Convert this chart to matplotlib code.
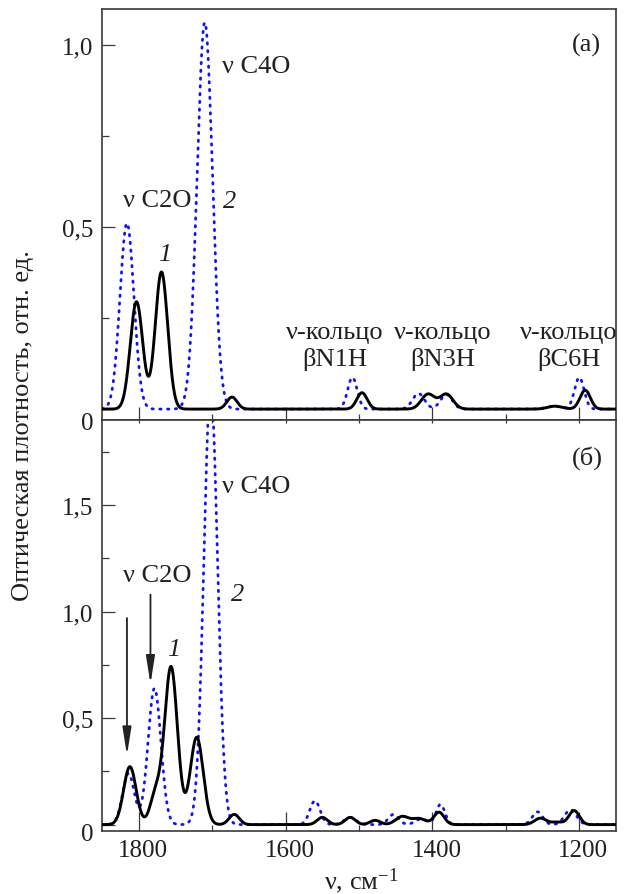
import numpy as np
import matplotlib
matplotlib.use("Agg")
import matplotlib.pyplot as plt
from matplotlib.ticker import MultipleLocator, FixedLocator, FixedFormatter
from matplotlib.transforms import ScaledTranslation

plt.rcParams['font.family'] = ['Liberation Serif', 'DejaVu Serif']
plt.rcParams['mathtext.fontset'] = 'custom'
plt.rcParams['mathtext.rm'] = 'Liberation Serif'
plt.rcParams['mathtext.it'] = 'Liberation Serif:italic'

# ---------------- data (bands) ----------------
# panel (a): curve 1 (black, solid)
a1_pos = [1803, 1769, 1673, 1496, 1406, 1381, 1233, 1192]
a1_amp = [0.295, 0.377, 0.033, 0.045, 0.041, 0.041, 0.008, 0.052]
a1_wid = [8.5, 8.5, 7, 7, 9, 9, 10, 7]
# panel (a): curve 2 (blue, dotted)
a2_pos = [1816, 1710, 1509, 1419, 1381, 1235, 1200]
a2_amp = [0.511, 1.063, 0.087, 0.043, 0.040, 0.008, 0.087]
a2_wid = [9.5, 10.5, 6.5, 8, 8, 10, 6.5]
# panel (б): curve 1 (black, solid)
b1_pos = [1812, 1777, 1756, 1721, 1670, 1550, 1512, 1478, 1441, 1418, 1391, 1253, 1230, 1207]
b1_amp = [0.272, 0.14, 0.74, 0.41, 0.048, 0.034, 0.034, 0.02, 0.038, 0.028, 0.058, 0.03, 0.012, 0.066]
b1_wid = [8.5, 7.5, 8.8, 8.8, 7, 7, 7, 7, 9, 9, 7, 8, 8, 7]
# panel (б): curve 2 (blue, dotted)
b2_pos = [1814, 1778.5, 1702, 1560, 1512, 1453, 1415, 1389, 1257, 1212]
b2_amp = [0.24, 0.64, 2.05, 0.112, 0.034, 0.048, 0.027, 0.095, 0.06, 0.07]
b2_wid = [8, 8.8, 9.3, 7, 8, 7, 8, 6, 7, 8]

x_ticks = [1800, 1600, 1400, 1200]
x_ticklabels = ["1800", "1600", "1400", "1200"]
a_yticks = [0, 0.5, 1.0]
a_yticklabels = ["0", "0,5", "1,0"]
b_yticks = [0, 0.5, 1.0, 1.5]
b_yticklabels = ["0", "0,5", "1,0", "1,5"]

nu = np.linspace(1850, 1150, 2801)


def spectrum(pos, amp, wid):
    y = np.zeros_like(nu)
    for p, a, w in zip(pos, amp, wid):
        y += a * np.exp(-0.5 * ((nu - p) / w) ** 2)
    return y


# ---------------- figure ----------------
W, H = 625, 895
fig = plt.figure(figsize=(W / 100, H / 100), dpi=100)
L, R = 102 / W, 616 / W
axa = fig.add_axes([L, 1 - 421 / H, R - L, (421 - 10) / H])
axb = fig.add_axes([L, 1 - 832 / H, R - L, (832 - 421) / H])

TXT = '#231f20'
SPINE = '#3a3a3a'
BLUE = '#1010ff'

for ax, pos1, amp1, wid1, pos2, amp2, wid2 in [
        (axa, a1_pos, a1_amp, a1_wid, a2_pos, a2_amp, a2_wid),
        (axb, b1_pos, b1_amp, b1_wid, b2_pos, b2_amp, b2_wid)]:
    ax.plot(nu, spectrum(pos2, amp2, wid2), color=BLUE, lw=2.0,
            linestyle=(0, (0.5, 2.3)), dash_capstyle='round', zorder=2)
    ax.plot(nu, spectrum(pos1, amp1, wid1), color='black', lw=2.1, zorder=3)
    ax.set_xlim(1850, 1150)
    for s in ax.spines.values():
        s.set_color(SPINE)
        s.set_linewidth(1.2)

axa.set_ylim(-0.03, 1.1)
axb.set_ylim(-0.03, 1.9)

# ticks
for ax, xmaj in [(axa, 9.4), (axb, 13.7)]:
    ax.xaxis.set_major_locator(FixedLocator(x_ticks))
    ax.xaxis.set_major_formatter(FixedFormatter(x_ticklabels))
    ax.xaxis.set_minor_locator(MultipleLocator(100))
    ax.tick_params(axis='x', which='major', direction='in', length=xmaj, width=0.9,
                   color=SPINE, labelsize=18, labelcolor=TXT, pad=6, top=False)
    ax.tick_params(axis='x', which='minor', direction='in', length=4.5, width=0.9,
                   color=SPINE, top=False)
    ax.yaxis.set_minor_locator(MultipleLocator(0.25))
    ax.tick_params(axis='y', which='major', direction='in', length=9.4, width=0.9,
                   color=SPINE, labelsize=18, labelcolor=TXT, pad=6, right=False)
    ax.tick_params(axis='y', which='minor', direction='in', length=5, width=0.9,
                   color=SPINE, right=False)

axa.tick_params(axis='x', labelbottom=False)
axa.yaxis.set_major_locator(FixedLocator(a_yticks))
axa.yaxis.set_major_formatter(FixedFormatter(a_yticklabels))
axb.yaxis.set_major_locator(FixedLocator(b_yticks))
axb.yaxis.set_major_formatter(FixedFormatter(b_yticklabels))

# small ticks on top spine of lower panel
sec = axb.secondary_xaxis('top')
sec.xaxis.set_major_locator(MultipleLocator(100))
sec.tick_params(axis='x', direction='in', length=2.2, width=0.9, color=SPINE, labeltop=False)
sec.spines['top'].set_visible(False)

# shift "0" labels down to the axis edge, x labels slightly right
fig.canvas.draw()
for ax, dy in [(axa, 7.9), (axb, 5.0)]:
    lab = ax.get_yticklabels()[0]
    lab.set_transform(lab.get_transform() + ScaledTranslation(0, -dy / 72, fig.dpi_scale_trans))
for lab in axb.get_xticklabels():
    lab.set_transform(lab.get_transform() + ScaledTranslation(4 / 100, 0, fig.dpi_scale_trans))

FS = 19
# panel (a) annotations
axa.text(1190, 1.003, "(a)", fontsize=FS, color=TXT, ha='center', va='center')
axa.text(1686, 0.943, "ν C4O", fontsize=FS, color=TXT, ha='left', va='center')
axa.text(1822, 0.575, "ν C2O", fontsize=FS, color=TXT, ha='left', va='center')
axa.text(1676, 0.572, "2", fontsize=FS, color=TXT, ha='center', va='center', style='italic')
axa.text(1765, 0.427, "1", fontsize=FS, color=TXT, ha='center', va='center', style='italic')
for xc, lbl in [(1533, "βN1H"), (1386, "βN3H"), (1214, "βC6H")]:
    axa.text(xc, 0.175, "ν-кольцо\n" + lbl, fontsize=FS, color=TXT, ha='center',
             va='center', linespacing=1.25, multialignment='center')

# panel (б) annotations
axb.text(1189, 1.725, "(б)", fontsize=FS, color=TXT, ha='center', va='center')
axb.text(1686, 1.59, "ν C4O", fontsize=FS, color=TXT, ha='left', va='center')
axb.text(1822, 1.17, "ν C2O", fontsize=FS, color=TXT, ha='left', va='center')
axb.text(1665, 1.082, "2", fontsize=FS, color=TXT, ha='center', va='center', style='italic')
axb.text(1752, 0.824, "1", fontsize=FS, color=TXT, ha='center', va='center', style='italic')
for xw, y0, y1 in [(1816, 0.97, 0.325), (1784, 1.08, 0.66)]:
    axb.annotate('', xy=(xw, y1), xytext=(xw, y0),
                 arrowprops=dict(arrowstyle='-|>,head_length=1.4,head_width=0.22',
                                 lw=1.3, color='#222222', shrinkA=0, shrinkB=0,
                                 mutation_scale=12))

fig.text(23 / W, 1 - 426 / H, "Оптическая плотность, отн. ед.", rotation=90,
         fontsize=FS, color=TXT, ha='center', va='center')
fig.text(361 / W, 1 - 881 / H, "ν, см$^{-1}$", fontsize=FS, color=TXT,
         ha='center', va='center')

fig.savefig("out.png", dpi=100)
